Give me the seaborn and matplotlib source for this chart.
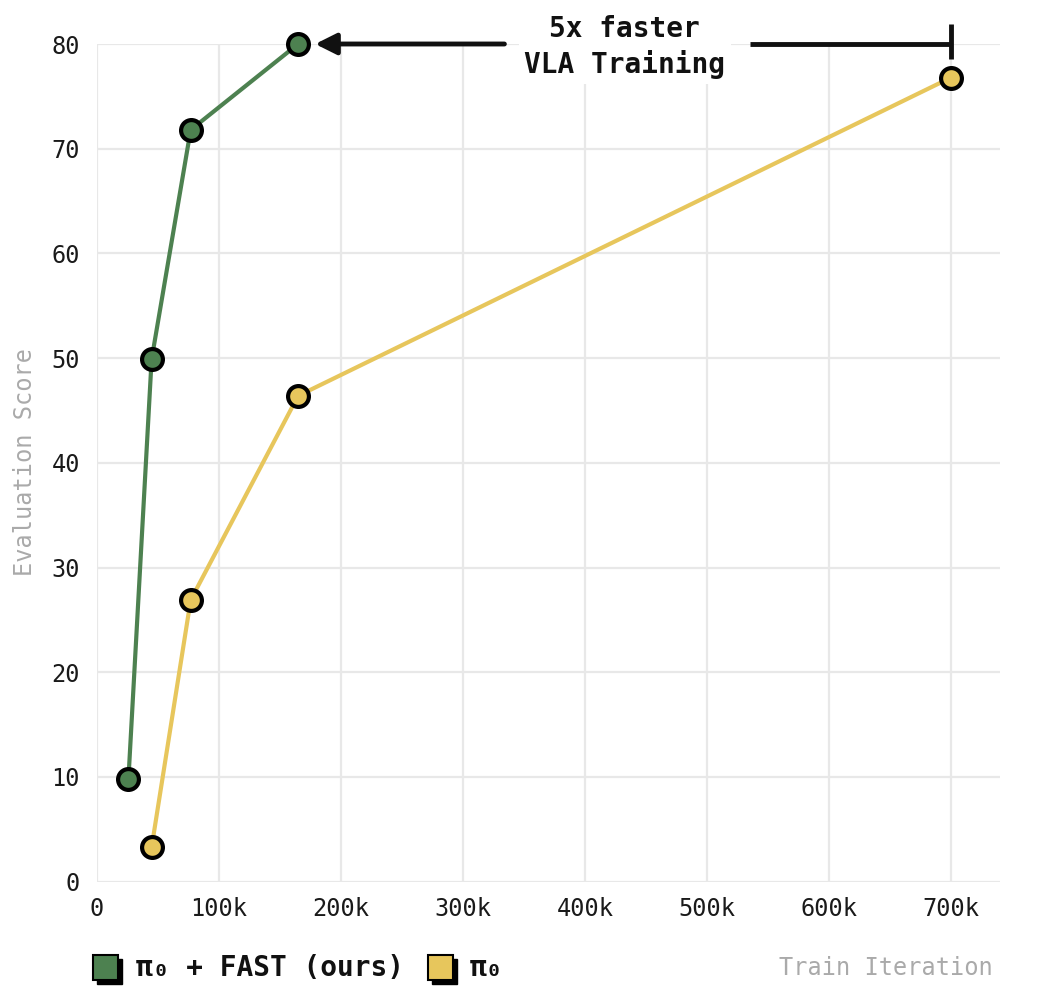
import matplotlib
matplotlib.use("Agg")
import matplotlib.pyplot as plt
from matplotlib.patches import Rectangle
import seaborn as sns
import pandas as pd

# ---- data ----
fast_iters = [26000, 45000, 77000, 165000]
fast_scores = [9.8, 49.9, 71.8, 80.0]
pi0_iters = [45000, 77000, 165000, 700000]
pi0_scores = [3.3, 26.9, 46.4, 76.8]
series_names = ["π₀ + FAST (ours)", "π₀"]
x_ticks = [0, 100000, 200000, 300000, 400000, 500000, 600000, 700000]
x_tick_labels = ["0", "100k", "200k", "300k", "400k", "500k", "600k", "700k"]
y_ticks = [0, 10, 20, 30, 40, 50, 60, 70, 80]
annotation_text = "5x faster\nVLA Training"

GREEN = "#4d8150"
YELLOW = "#e7c65c"
MONO = ["DejaVu Sans Mono", "DejaVu Sans"]

df = pd.DataFrame({
    "iter": fast_iters + pi0_iters,
    "score": fast_scores + pi0_scores,
    "series": [series_names[0]] * len(fast_iters) + [series_names[1]] * len(pi0_iters),
})

sns.set_theme(style="white")
plt.rcParams["font.family"] = MONO

fig = plt.figure(figsize=(10.38, 10.0), dpi=100)
ax = fig.add_axes([96.7 / 1038, 1 - 881.7 / 1000, (1000 - 96.7) / 1038, (881.7 - 44) / 1000])

sns.lineplot(
    data=df, x="iter", y="score", hue="series",
    palette={series_names[0]: GREEN, series_names[1]: YELLOW},
    marker="o", markersize=15, markeredgecolor="black", markeredgewidth=3,
    linewidth=3, legend=False, sort=True, ax=ax, zorder=3,
)
for ln in ax.lines:
    ln.set_clip_on(False)

ax.set_xlim(0, 740000)
ax.set_ylim(0, 80)
ax.set_xticks(x_ticks)
ax.set_xticklabels(x_tick_labels)
ax.set_yticks(y_ticks)
ax.set_yticklabels([str(v) for v in y_ticks])
ax.tick_params(axis="both", length=0, labelsize=17, labelcolor="#1a1a1a")
ax.tick_params(axis="y", pad=12)
ax.tick_params(axis="x", pad=11)
ax.grid(True, color="#e8e8e8", linewidth=1.6)
ax.set_axisbelow(True)
for s in ax.spines.values():
    s.set_visible(False)
ax.set_xlabel("")
ax.set_ylabel("")

# annotation: arrow from pi0 final point to FAST final point, broken by the label
y_arrow = fast_scores[-1]
ax.annotate(
    "", xy=(179000, y_arrow), xytext=(334000, y_arrow),
    arrowprops=dict(arrowstyle="-|>", mutation_scale=32, lw=3.5, color="#111111",
                    shrinkA=0, shrinkB=0),
    annotation_clip=False, zorder=4,
)
ax.plot([535000, pi0_iters[-1]], [y_arrow, y_arrow], color="#111111", lw=3.5,
        clip_on=False, zorder=4, solid_capstyle="butt")
ax.plot([pi0_iters[-1], pi0_iters[-1]], [78.6, 81.9], color="#111111", lw=3.5,
        clip_on=False, zorder=4, solid_capstyle="butt")
ax.text(432500, 79.75, annotation_text, ha="center", va="center", fontsize=20,
        fontweight="bold", color="#111111", family=MONO, linespacing=1.3,
        bbox=dict(facecolor="white", edgecolor="none", pad=4), zorder=5)

# axis labels
fig.text(25 / 1038, 1 - 462 / 1000, "Evaluation Score", rotation=90, ha="center",
         va="center", fontsize=17, color="#aaaaaa", family=MONO)
fig.text(993 / 1038, 1 - 968 / 1000, "Train Iteration", ha="right", va="center",
         fontsize=17, color="#aaaaaa", family=MONO)

# custom legend with shadowed squares
def legend_square(x_px, color):
    W, H = 1038.0, 1000.0
    y_top = 955
    size = 25
    shadow = Rectangle(((x_px + 4) / W, 1 - (y_top + size + 4) / H), size / W, size / H,
                       transform=fig.transFigure, facecolor="black", edgecolor="black", lw=1)
    sq = Rectangle((x_px / W, 1 - (y_top + size) / H), size / W, size / H,
                   transform=fig.transFigure, facecolor=color, edgecolor="black", lw=1.5)
    fig.add_artist(shadow)
    fig.add_artist(sq)

legend_square(93, GREEN)
fig.text(136 / 1038, 1 - 968 / 1000, series_names[0], ha="left", va="center",
         fontsize=20, fontweight="bold", color="#111111", family=MONO)
legend_square(428, YELLOW)
fig.text(470 / 1038, 1 - 968 / 1000, series_names[1], ha="left", va="center",
         fontsize=20, fontweight="bold", color="#111111", family=MONO)

fig.savefig("out.png", dpi=100, facecolor="white")
